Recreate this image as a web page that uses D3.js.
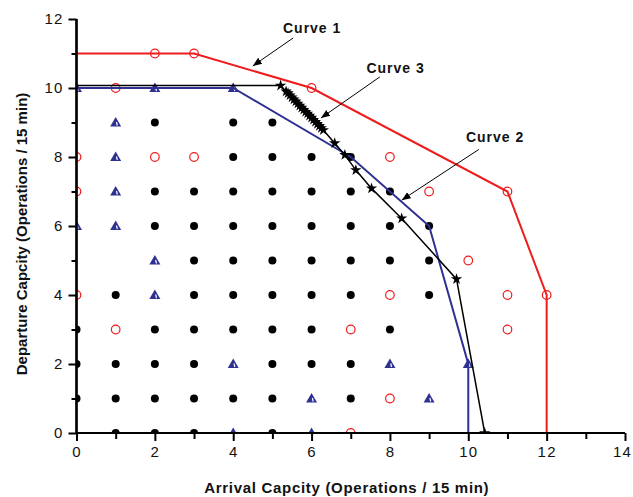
<!DOCTYPE html>
<html><head><meta charset="utf-8">
<script src="https://cdn.jsdelivr.net/npm/d3@7"></script>
<style>body{margin:0;background:#fff}svg{display:block}text{font-family:"Liberation Sans",Arial,sans-serif}</style>
</head><body><svg id="c" width="633" height="497"></svg>
<script>
// ---- data ----
const xTicks = [0,2,4,6,8,10,12,14];
const yTicks = [0,2,4,6,8,10,12];
const xMinor = [1,3,5,7,9,11,13];
const yMinor = [1,3,5,7,9,11];

const curve1 = [[0,11],[2,11],[3,11],[6,10],[11,7],[12,4],[12,0]];
const curve2 = [[0,10],[4,10],[7,8],[9,6],[10,2],[10,0]];
const curve3 = [[0,10.07],[5.21,10.07],[5.35,9.9],[5.4,9.85],[5.45,9.79],[5.5,9.73],[5.55,9.67],[5.6,9.61],[5.65,9.55],[5.7,9.49],[5.75,9.43],[5.8,9.37],[5.85,9.31],[5.9,9.26],[5.95,9.2],[6.0,9.14],[6.05,9.08],[6.1,9.02],[6.15,8.96],[6.2,8.9],[6.25,8.84],[6.3,8.78],[6.59,8.4],[6.85,8.06],[7.13,7.62],[7.53,7.09],[8.3,6.22],[9.7,4.46],[10.42,0]];

const redCircles = [[2,11],[3,11],[6,10],[11,7],[12,4],[1,10],[0,8],[2,8],[3,8],[8,8],[0,7],[9,7],[10,5],[0,4],[8,4],[11,4],[1,3],[7,3],[11,3],[8,1],[7,0]];
const blueTriangles = [[0,10],[2,10],[4,10],[1,9],[1,8],[1,7],[0,6],[1,6],[2,5],[2,4],[4,2],[8,2],[10,2],[6,1],[9,1],[4,0],[6,0]];
const blackDots = [
 [2,9],[4,9],[5,9],
 [4,8],[5,8],[6,8],[7,8],
 [2,7],[3,7],[4,7],[5,7],[6,7],[7,7],[8,7],
 [2,6],[3,6],[4,6],[5,6],[6,6],[7,6],[8,6],[9,6],
 [3,5],[4,5],[5,5],[6,5],[7,5],[8,5],[9,5],
 [1,4],[3,4],[4,4],[5,4],[6,4],[7,4],[9,4],
 [0,3],[2,3],[3,3],[4,3],[5,3],[6,3],[8,3],
 [0,2],[1,2],[2,2],[3,2],[5,2],[6,2],[7,2],
 [0,1],[1,1],[2,1],[3,1],[4,1],[5,1],[7,1],
 [1,0],[2,0],[3,0],[5,0]
];
const labels = [
 {text:"Curve 1", tx:5.27, ty:11.6, from:[5.53,11.45], to:[4.5,10.64]},
 {text:"Curve 3", tx:7.4, ty:10.43, from:[7.74,10.32], to:[6.24,9.13]},
 {text:"Curve 2", tx:9.94, ty:8.44, from:[10.27,8.22], to:[8.3,6.75]}
];
const xTitle = "Arrival Capcity (Operations / 15 min)";
const yTitle = "Departure Capcity (Operations / 15 min)";

// ---- drawing ----
const svg = d3.select("#c");
const x = d3.scaleLinear().domain([0,14]).range([76.5,625]);
const y = d3.scaleLinear().domain([0,12]).range([433,19]);
const RED="#ee1c1c", BLUE="#2e3192", BLK="#000";

svg.append("defs").append("clipPath").attr("id","pc").append("rect")
  .attr("x",x(0)).attr("y",y(12)).attr("width",x(14)-x(0)).attr("height",y(0)-y(12));
svg.select("defs").append("marker").attr("id","ah").attr("viewBox","0 0 10 10")
  .attr("refX",10).attr("refY",5).attr("markerWidth",9).attr("markerHeight",9)
  .attr("markerUnits","userSpaceOnUse").attr("orient","auto")
  .append("path").attr("d","M0,1 L10,5 L0,9 Z").attr("fill",BLK);

const line = d3.line().x(d=>x(d[0])).y(d=>y(d[1]));
const plot = svg.append("g").attr("clip-path","url(#pc)");

// grid markers
plot.selectAll(".dot").data(blackDots).join("circle")
  .attr("cx",d=>x(d[0])).attr("cy",d=>y(d[1])).attr("r",4).attr("fill",BLK);
plot.selectAll(".rc").data(redCircles).join("circle")
  .attr("cx",d=>x(d[0])).attr("cy",d=>y(d[1])).attr("r",4.3)
  .attr("fill","none").attr("stroke",RED).attr("stroke-width",1.2);
const tri = plot.selectAll(".tri").data(blueTriangles).join("g")
  .attr("transform",d=>`translate(${x(d[0])},${y(d[1])})`);
tri.append("path").attr("d","M0,-5.5 L5.5,4 L-5.5,4 Z").attr("fill",BLUE);
tri.append("path").attr("d","M0.8,-0.5 L1.6,3").attr("stroke","#fff").attr("stroke-width",1.2);

// curves
plot.append("path").datum(curve1).attr("d",line).attr("fill","none").attr("stroke",RED).attr("stroke-width",2);
plot.append("path").datum(curve2).attr("d",line).attr("fill","none").attr("stroke",BLUE).attr("stroke-width",2);
plot.append("path").datum(curve3).attr("d",line).attr("fill","none").attr("stroke",BLK).attr("stroke-width",1.5);
plot.selectAll(".st").data(curve3.slice(1)).join("path")
  .attr("transform",d=>`translate(${x(d[0])},${y(d[1])})`)
  .attr("d",d3.symbol(d3.symbolStar,40)).attr("fill",BLK);

// axes
const fnt = "15px";
const gx = svg.append("g").attr("transform",`translate(0,${y(0)})`);
gx.call(d3.axisBottom(x).tickValues(xTicks).tickSize(8).tickPadding(5).tickFormat(d3.format("d")));
gx.append("g").call(d3.axisBottom(x).tickValues(xMinor).tickSize(6).tickFormat(""));
const gy = svg.append("g").attr("transform",`translate(${x(0)},0)`);
gy.call(d3.axisLeft(y).tickValues(yTicks).tickSize(8).tickPadding(5).tickFormat(d3.format("d")));
gy.append("g").call(d3.axisLeft(y).tickValues(yMinor).tickSize(5).tickFormat(""));
svg.selectAll(".domain").attr("stroke",BLK).attr("stroke-width",2.2);
svg.selectAll(".tick line").attr("stroke",BLK).attr("stroke-width",2);
svg.selectAll(".tick text").attr("font-size",fnt).attr("font-family","Liberation Sans, Arial")
  .attr("letter-spacing","1.2px").attr("fill","#111");
gx.selectAll(".tick text").filter(d=>d===14).attr("dx","-3");
gx.selectAll(".domain").attr("d",`M${x(0)},0H${x(14)}`);
gy.selectAll(".domain").attr("d",`M0,${y(0)}V${y(12)}`);
gx.select("g").selectAll(".domain").remove();
gy.select("g").selectAll(".domain").remove();

// titles
svg.append("text").attr("x",(x(0)+x(14))/2-4).attr("y",493).attr("text-anchor","middle")
  .attr("font-size","15px").attr("font-weight","bold").attr("letter-spacing","0.7px").attr("fill","#111").text(xTitle);
svg.append("text").attr("transform",`translate(27,234) rotate(-90)`).attr("text-anchor","middle")
  .attr("font-size","15px").attr("font-weight","bold").attr("fill","#111").text(yTitle);

// annotations
svg.selectAll(".lbl").data(labels).join("text")
  .attr("x",d=>x(d.tx)).attr("y",d=>y(d.ty)).attr("font-size","14px").attr("font-weight","bold")
  .attr("letter-spacing","1px").attr("fill","#111").text(d=>d.text);
svg.selectAll(".arr").data(labels).join("line")
  .attr("x1",d=>x(d.from[0])).attr("y1",d=>y(d.from[1]))
  .attr("x2",d=>x(d.to[0])).attr("y2",d=>y(d.to[1]))
  .attr("stroke",BLK).attr("stroke-width",1).attr("marker-end","url(#ah)");
</script></body></html>
